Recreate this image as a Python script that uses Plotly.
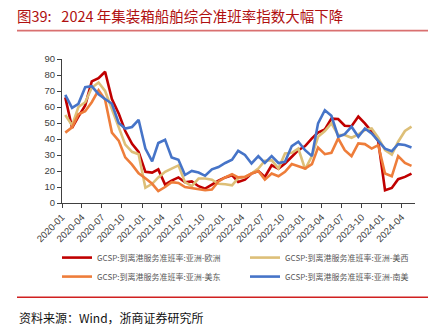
import pandas as pd
import plotly.graph_objects as go

# ---- data (monthly, 2020-01 .. 2024-05) ----
start_month = "2020-01-01"
n_months = 53

asia_europe = [66, 47, 54, 61, 76, 78, 82, 65, 56, 45, 37, 32, 19.5, 19, 21, 11.5, 14, 16, 13, 13.5,
               10.5, 9, 11.5, 14, 16, 17.4, 13.2, 14.6, 18.4, 20, 16.3, 23.6, 21.5, 24.7, 28.9, 33,
               35.6, 40.4, 44, 46, 52.7, 52.5, 48.3, 48, 54, 49.8, 44.6, 38.7, 8, 9.4, 14.9, 16.3, 18.4]
asia_uswest = [55, 48.5, 60, 63, 72, 75.3, 70, 59, 47, 36.5, 32, 30.5, 9.5, 12, 16, 19.5, 21.5, 23.5,
               13, 10.5, 15.3, 15.3, 14.6, 12, 11.7, 11, 15.5, 16.3, 18.4, 21.5, 26.4, 26.8, 21.5, 31,
               31.4, 34, 21, 29.3, 41.4, 45, 49.8, 42.5, 42.5, 40.8, 42.9, 45.6, 46.6, 40.8, 33, 30.3,
               38.3, 45, 47.7]
asia_useast = [44, 47.3, 55.5, 57.3, 63, 70.5, 64.5, 44, 39, 28.5, 24, 18.5, 15.5, 12, 7.5, 10, 13,
               12.5, 10, 9.2, 8.8, 8, 8.4, 13.5, 16, 18, 16, 16.3, 18.4, 20, 14.6, 18.4, 16.7, 19.5,
               24.3, 23, 21.5, 24.3, 34.7, 30.5, 31.4, 40.4, 33, 29.3, 37.2, 36.8, 34, 36.2, 18.4,
               16.7, 29.3, 25, 23.2]
asia_samerica = [67.6, 59.5, 62, 72.4, 73, 68, 65, 62, 50, 46.5, 47.5, 52, 34, 26, 37.5, 39.5, 28.5,
                 27, 17.5, 20, 19, 17, 21, 22.5, 25, 27, 32.6, 30, 24.7, 29.3, 25, 29.3, 25, 25.7,
                 35.6, 38.3, 33, 29.3, 49.8, 58, 54.5, 41.4, 43, 47.7, 41.4, 46.6, 43.5, 38.5, 34,
                 32.4, 36.8, 36.2, 34.7]

series_names = ["GCSP:到离港服务准班率:亚洲-欧洲", "GCSP:到离港服务准班率:亚洲-美西",
                "GCSP:到离港服务准班率:亚洲-美东", "GCSP:到离港服务准班率:亚洲-南美"]
series_values = [asia_europe, asia_uswest, asia_useast, asia_samerica]
series_colors = ["#C00000", "#DDBF78", "#EE7D3A", "#4674C8"]
series_legend = ["legend", "legend2", "legend", "legend2"]   # left / right legend column

title_text = "图39:   2024 年集装箱船舶综合准班率指数大幅下降"
source_text = "资料来源：Wind，浙商证券研究所"

# ---- layout geometry (pixels) ----
W, H = 443, 330
PL, PR, PT, PB = 62, 415, 59.3, 203   # plot area edges
def px_x(p):
    return (p - PL) / (PR - PL)
def px_y(p):
    return (PB - p) / (PB - PT)

months = pd.date_range(start_month, periods=n_months, freq="MS")
xpos = months + pd.Timedelta(days=15)

fig = go.Figure()
for name, vals, col, lg in zip(series_names, series_values, series_colors, series_legend):
    fig.add_trace(go.Scatter(x=xpos, y=vals, name=name, mode="lines", legend=lg,
                             line=dict(color=col, width=2.6)))

axis_font = dict(family="Liberation Sans, Arial, sans-serif", size=9.5, color="#404040")
legend_font = dict(family="Noto Sans CJK SC", size=8, color="#595959")
fig.update_layout(
    width=W, height=H,
    margin=dict(l=PL, r=W - PR, t=PT, b=H - PB),
    paper_bgcolor="white", plot_bgcolor="white",
    showlegend=True,
    legend=dict(orientation="v", x=px_x(57), y=px_y(243), xanchor="left", yanchor="top",
                font=legend_font, bgcolor="rgba(0,0,0,0)", itemwidth=30, tracegroupgap=0),
    legend2=dict(orientation="v", x=px_x(245), y=px_y(243), xanchor="left", yanchor="top",
                 font=legend_font, bgcolor="rgba(0,0,0,0)", itemwidth=30, tracegroupgap=0),
    title=dict(text=title_text, xref="container", yref="container",
               x=17 / W, y=1 - 17 / H, xanchor="left", yanchor="middle",
               font=dict(family="Noto Sans CJK SC", size=14.5, color="#B01010")),
    xaxis=dict(type="date", range=["2020-01-01", "2024-06-01"],
               tick0="2020-01-01", dtick="M3", tickformat="%Y-%m", tickangle=-45,
               ticks="outside", ticklen=4, tickcolor="#404040",
               showline=True, linecolor="#404040", linewidth=1,
               showgrid=False, zeroline=False, tickfont=axis_font),
    yaxis=dict(range=[0, 90], dtick=10, tick0=0,
               ticks="outside", ticklen=4, tickcolor="#404040",
               showline=True, linecolor="#404040", linewidth=1,
               showgrid=False, zeroline=False, tickfont=axis_font),
    shapes=[
        dict(type="line", xref="paper", yref="paper", x0=px_x(17), x1=px_x(428),
             y0=px_y(31), y1=px_y(31), line=dict(color="#D97070", width=1.6)),
        dict(type="line", xref="paper", yref="paper", x0=px_x(17), x1=px_x(428),
             y0=px_y(297), y1=px_y(297), line=dict(color="#D02020", width=1.4)),
    ],
    annotations=[
        dict(text=source_text, xref="paper", yref="paper", x=px_x(17), y=px_y(317),
             xanchor="left", yanchor="middle", showarrow=False,
             font=dict(family="Noto Sans CJK SC", size=12, color="#111111")),
    ],
)

fig.write_html("out.html")
